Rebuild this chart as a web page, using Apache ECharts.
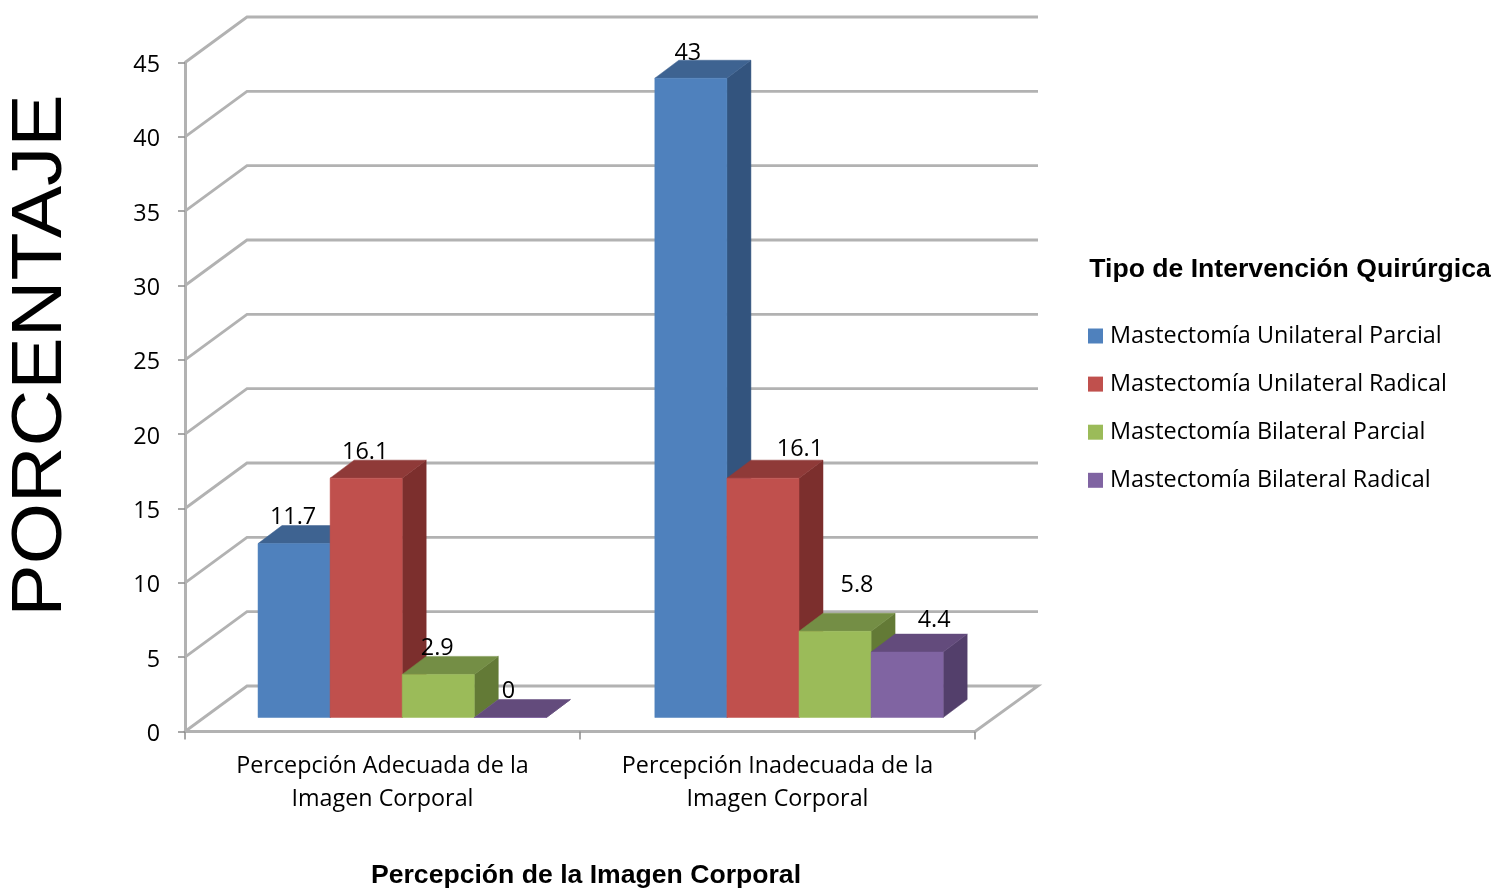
<!DOCTYPE html>
<html>
<head>
<meta charset="utf-8">
<style>html,body{margin:0;padding:0;background:#fff}#c{width:1496px;height:889px}</style>
<script src="https://cdn.jsdelivr.net/npm/echarts@6/dist/echarts.min.js"></script>
</head>
<body>
<div id="c"></div>
<script>
var categories = ['Percepción Adecuada de la\nImagen Corporal', 'Percepción Inadecuada de la\nImagen Corporal'];
var seriesNames = ['Mastectomía Unilateral Parcial', 'Mastectomía Unilateral Radical', 'Mastectomía Bilateral Parcial', 'Mastectomía Bilateral Radical'];
var unilateralParcial = [11.7, 43];
var unilateralRadical = [16.1, 16.1];
var bilateralParcial = [2.9, 5.8];
var bilateralRadical = [0, 4.4];
var yTicks = [0, 5, 10, 15, 20, 25, 30, 35, 40, 45];

var seriesValues = [unilateralParcial, unilateralRadical, bilateralParcial, bilateralRadical];
var faceColors = ['#4f81bd', '#c0504d', '#9bbb59', '#8064a2'];
var topColors = ['#3e6391', '#8f3a38', '#748e45', '#634b7c'];
var sideColors = ['#33547e', '#7c2f2d', '#637a36', '#533f6b'];
var groupShift = [19.7, 21.5];
var labelShift = [
  [[-1, -26], [-3, -25]],
  [[-1, -26], [37, -29]],
  [[-1, -26], [22, -46]],
  [[-2, -26], [27, -32]]
];
var gridColor = '#b2b2b2';
var textFont = '"Open Sans"';
var wallDX = 62, wallDY = -45.5, barLift = -14, barDX = 24, barDY = -18;

function gridItem(params, api) {
  var cs = params.coordSys;
  var p = api.coord([0, api.value(0)]);
  var x0 = cs.x, y0 = p[1];
  var pts = [[x0, y0], [x0 + wallDX, y0 + wallDY], [x0 + cs.width + wallDX + 1, y0 + wallDY]];
  if (api.value(0) === 0) pts.push([x0 + cs.width, y0]);
  return {type: 'polyline', shape: {points: pts}, style: {stroke: gridColor, lineWidth: 2.8, fill: null, lineJoin: 'miter'}};
}

function barRenderer(si) {
  return function (params, api) {
    var c = api.value(0), v = api.value(1);
    var w = api.size([1, 0])[0] * 0.1825;
    var cx = api.coord([c, 0])[0] + groupShift[c];
    var l = cx + (si - 2) * w, r = l + w;
    var b = api.coord([c, 0])[1] + barLift;
    var t = api.coord([c, v])[1] + barLift;
    var poly = function (pts, col) {
      return {type: 'polygon', shape: {points: pts}, style: {fill: col, stroke: col, lineWidth: 0.5}};
    };
    var ls = labelShift[si][c];
    return {type: 'group', children: [
      poly([[r, t], [r + barDX, t + barDY], [r + barDX, b + barDY], [r, b]], sideColors[si]),
      poly([[l, t], [l + barDX, t + barDY], [r + barDX, t + barDY], [r, t]], topColors[si]),
      poly([[l, t], [r, t], [r, b], [l, b]], faceColors[si]),
      {type: 'text', z2: 10, style: {
        text: String(v), x: (l + r) / 2 + ls[0], y: t + ls[1],
        align: 'center', verticalAlign: 'middle',
        font: '23.4px ' + textFont, fill: '#000'
      }}
    ]};
  };
}

var series = [{
  type: 'custom', silent: true, renderItem: gridItem, z: 1,
  data: yTicks.map(function (t) { return [t]; }), encode: {y: 0}
}];
seriesValues.forEach(function (vals, si) {
  series.push({
    type: 'custom', name: seriesNames[si], silent: true, z: 2 + si,
    itemStyle: {color: faceColors[si]},
    renderItem: barRenderer(si),
    encode: {x: 0, y: 1},
    data: vals.map(function (v, i) { return [i, v]; })
  });
});

var chart = echarts.init(document.getElementById('c'), null, {renderer: 'canvas'});
chart.setOption({
  animation: false,
  backgroundColor: '#fff',
  grid: {left: 185, top: 62.5, width: 790, height: 669, containLabel: false},
  xAxis: {
    type: 'category', data: categories,
    axisLine: {show: true, onZero: false, lineStyle: {color: gridColor, width: 3}},
    axisTick: {show: true, length: 8, lineStyle: {color: '#8c8c8c', width: 1.5}},
    axisLabel: {interval: 0, margin: 18, color: '#000', fontFamily: textFont, fontSize: 23.3, lineHeight: 33},
    splitLine: {show: false}
  },
  yAxis: {
    type: 'value', min: 0, max: 45, interval: 5,
    axisLine: {show: true, lineStyle: {color: gridColor, width: 3}},
    axisTick: {show: true, length: 7, lineStyle: {color: '#8c8c8c', width: 1.5}},
    axisLabel: {margin: 25, color: '#000', fontFamily: textFont, fontSize: 23.3, verticalAlign: 'top', lineHeight: 6},
    splitLine: {show: false}
  },
  legend: {
    orient: 'vertical', left: 1083, top: 319, icon: 'rect',
    itemWidth: 15, itemHeight: 15, itemGap: 24.1, selectedMode: false,
    data: seriesNames,
    textStyle: {color: '#000', fontFamily: textFont, fontSize: 23.4, lineHeight: 24, padding: [0, 0, 0, 2]}
  },
  graphic: [
    {type: 'text', silent: true, x: 41.5, y: 355.5, rotation: Math.PI / 2, scaleY: 0.89, style: {
      text: 'PORCENTAJE', align: 'center', verticalAlign: 'middle', font: '78.6px "Liberation Sans"', fill: '#000'}},
    {type: 'text', silent: true, x: 586, y: 876, style: {
      text: 'Percepción de la Imagen Corporal', align: 'center', verticalAlign: 'middle', font: 'bold 26.6px "Liberation Sans"', fill: '#000'}},
    {type: 'text', silent: true, x: 1290, y: 270, style: {
      text: 'Tipo de Intervención Quirúrgica', align: 'center', verticalAlign: 'middle', font: 'bold 26.6px "Liberation Sans"', fill: '#000'}}
  ],
  series: series
});
</script>
</body>
</html>
